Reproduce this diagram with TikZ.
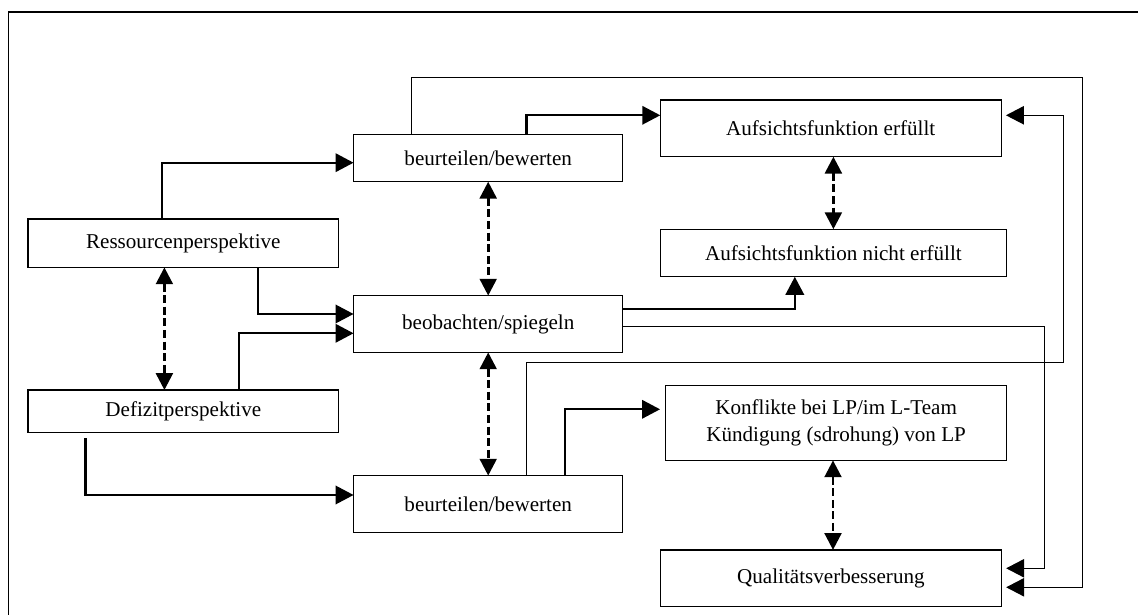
\documentclass[tikz,border=0pt]{standalone}
\usepackage{fontspec}
\setmainfont{Liberation Serif}
\usetikzlibrary{arrows.meta}

\tikzset{
  box/.style={draw, line width=0.9pt, inner sep=2pt, outer sep=0pt, align=center,
              font=\fontsize{15}{19}\selectfont},
  link/.style={line width=0.8pt, -{Triangle[length=0.45cm,width=0.46cm]}},
  arr/.style={link, line width=1.6pt},
  both/.style={line width=1.9pt, dash pattern=on 0.2cm off 0.09cm,
               {Triangle[length=0.42cm,width=0.42cm]}-{Triangle[length=0.42cm,width=0.42cm]}},
}

\begin{document}
\begin{tikzpicture}[x=0.025cm, y=-0.025cm]
    \useasboundingbox (0,0) rectangle (1138,615);
    \draw[line width=0.9pt] (8.7,630) -- (8.7,12) -- (1150,12);

    % left column
    \node[box, minimum width=7.76cm, minimum height=1.21cm] (res) at (183.3,243.2) {Ressourcenperspektive};
    \node[box, minimum width=7.76cm, minimum height=1.06cm] (def) at (183.3,411.2) {Defizitperspektive};

    % middle column
    \node[box, minimum width=6.73cm, minimum height=1.18cm] (beu1) at (488.2,158.1) {beurteilen/bewerten};
    \node[box, minimum width=6.73cm, minimum height=1.42cm] (beo)  at (488.2,324)   {beobachten/spiegeln};
    \node[box, minimum width=6.73cm, minimum height=1.43cm] (beu2) at (488.2,504.2) {beurteilen/bewerten};

    % right column
    \node[box, minimum width=8.52cm, minimum height=1.42cm] (auf1) at (830.7,128.3) {Aufsichtsfunktion erfüllt};
    \node[box, minimum width=8.65cm, minimum height=1.19cm] (auf2) at (833.4,253)   {Aufsichtsfunktion nicht erfüllt};
    \node[box, minimum width=8.52cm, minimum height=1.87cm] (konf) at (836.1,423)   {Konflikte bei LP/im L-Team\\Kündigung (sdrohung) von LP};
    \node[box, minimum width=8.52cm, minimum height=1.42cm] (qual) at (830.9,578.3) {Qualitätsverbesserung};

    % perspectives
    \draw[arr] (res.north -| 162.2,0) |- (beu1.west |- 0,162.7);
    \draw[arr] (res.south -| 258.2,0) |- (beo.west |- 0,314);
    \draw[arr] (def.north -| 238.9,0) |- (beo.west |- 0,333.3);
    \draw[arr, shorten <=0.15cm] (def.south -| 85.6,0) |- (beu2.west |- 0,495);

    % dashed links
    \draw[both] (res.south -| 164.4,0) -- (def.north -| 164.4,0);
    \draw[both] (beu1.south) -- (beo.north);
    \draw[both] (beo.south) -- (beu2.north);
    \draw[both] (auf1.south -| auf2.north) -- (auf2.north);
    \draw[both] (konf.south -| 833,0) -- (qual.north -| 833,0);

    % results
    \draw[arr] (beu1.north -| 526.4,0) |- (auf1.west |- 0,115.3);
    \draw[link, shorten >=0.12cm] (beu1.north -| 411.5,0) |- (1082.7,77.7) |- (qual.east |- 0,587.3);
    \draw[arr] (beo.east |- 0,308.7) -| (auf2.south -| 794.8,0);
    \draw[link, shorten >=0.12cm] (beo.east |- 0,326.7) -- (1044.1,326.7) |- (qual.east |- 0,568.3);
    \draw[link, shorten >=0.12cm] (beu2.north -| 526.4,0) |- (1063.7,362.7) |- (auf1.east |- 0,115.3);
    \draw[arr, shorten >=0.14cm] (beu2.north -| 565,0) |- (konf.west |- 0,409.3);
\end{tikzpicture}
\end{document}
